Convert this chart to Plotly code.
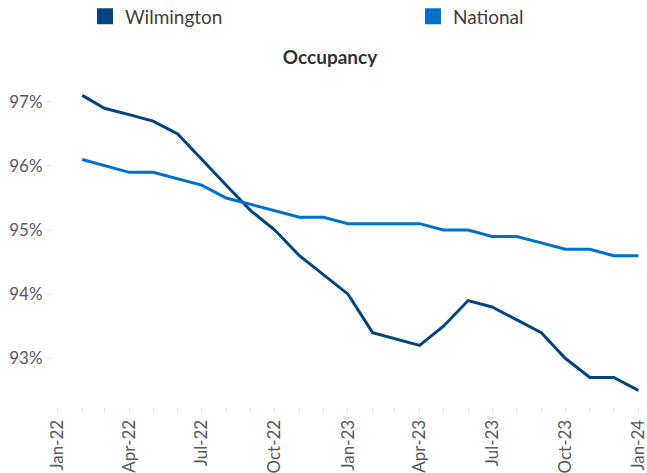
import plotly.graph_objects as go

months = ["2022-02-01", "2022-03-01", "2022-04-01", "2022-05-01", "2022-06-01", "2022-07-01",
          "2022-08-01", "2022-09-01", "2022-10-01", "2022-11-01", "2022-12-01", "2023-01-01",
          "2023-02-01", "2023-03-01", "2023-04-01", "2023-05-01", "2023-06-01", "2023-07-01",
          "2023-08-01", "2023-09-01", "2023-10-01", "2023-11-01", "2023-12-01", "2024-01-01"]
wilmington = [97.1, 96.9, 96.8, 96.7, 96.5, 96.1, 95.7, 95.3, 95.0, 94.6, 94.3, 94.0,
              93.4, 93.3, 93.2, 93.5, 93.9, 93.8, 93.6, 93.4, 93.0, 92.7, 92.7, 92.5]
national = [96.1, 96.0, 95.9, 95.9, 95.8, 95.7, 95.5, 95.4, 95.3, 95.2, 95.2, 95.1,
            95.1, 95.1, 95.1, 95.0, 95.0, 94.9, 94.9, 94.8, 94.7, 94.7, 94.6, 94.6]
tick_dates = ["2022-01-01", "2022-04-01", "2022-07-01", "2022-10-01", "2023-01-01",
              "2023-04-01", "2023-07-01", "2023-10-01", "2024-01-01"]
tick_labels = ["Jan-22", "Apr-22", "Jul-22", "Oct-22", "Jan-23", "Apr-23", "Jul-23", "Oct-23", "Jan-24"]
y_ticks = [93, 94, 95, 96, 97]
y_tick_labels = ["93%", "94%", "95%", "96%", "97%"]

c_wil = "#004482"
c_nat = "#0070CD"
font = "Lato, Carlito, sans-serif"

fig = go.Figure()
fig.add_trace(go.Scatter(x=months, y=wilmington, mode="lines", name="Wilmington",
                         line=dict(color=c_wil, width=3), showlegend=False))
fig.add_trace(go.Scatter(x=months, y=national, mode="lines", name="National",
                         line=dict(color=c_nat, width=3), showlegend=False))
# legend entries with square swatches
fig.add_trace(go.Scatter(x=[None], y=[None], mode="markers", name="Wilmington",
                         marker=dict(symbol="square", size=16, color=c_wil), legend="legend"))
fig.add_trace(go.Scatter(x=[None], y=[None], mode="markers", name="National",
                         marker=dict(symbol="square", size=16, color=c_nat), legend="legend2"))

legend_common = dict(orientation="h", xanchor="left", yanchor="middle",
                     xref="container", yref="container", bgcolor="rgba(0,0,0,0)",
                     font=dict(family=font, size=19, color="#404040"))

fig.update_layout(
    width=647, height=473,
    margin=dict(l=52, r=7, t=89, b=66, autoexpand=False),
    paper_bgcolor="white", plot_bgcolor="white",
    font=dict(family=font, color="#595959", size=17),
    title=dict(text="<b>Occupancy</b>", x=330 / 647, xanchor="center", y=1 - 57 / 473, yanchor="middle",
               font=dict(family=font, size=19, color="#333333")),
    legend=dict(x=85 / 647, y=1 - 16.5 / 473, **legend_common),
    legend2=dict(x=413 / 647, y=1 - 16.5 / 473, **legend_common),
    xaxis=dict(type="date", range=["2021-12-25", "2024-01-03"], automargin=False,
               tickvals=tick_dates, ticktext=tick_labels, tickangle=-90,
               showgrid=False, zeroline=False, showline=False, ticklabeloverflow="allow",
               ticks="outside", ticklen=5, tickcolor="#e3e3e3",
               minor=dict(dtick="M1", tick0="2022-01-01", ticks="outside", ticklen=5, tickcolor="#e3e3e3"),
               tickfont=dict(family=font, size=17, color="#595959")),
    yaxis=dict(range=[92.24, 97.2], tickvals=y_ticks, ticktext=y_tick_labels, automargin=False,
               showgrid=False, zeroline=False, showline=False,
               ticks="outside", ticklen=5, tickcolor="#e3e3e3",
               tickfont=dict(family=font, size=17, color="#595959")),
)

fig.write_html("out.html", config={"displayModeBar": False},
               post_script="document.body.style.margin='0px';document.body.style.overflow='hidden';")
